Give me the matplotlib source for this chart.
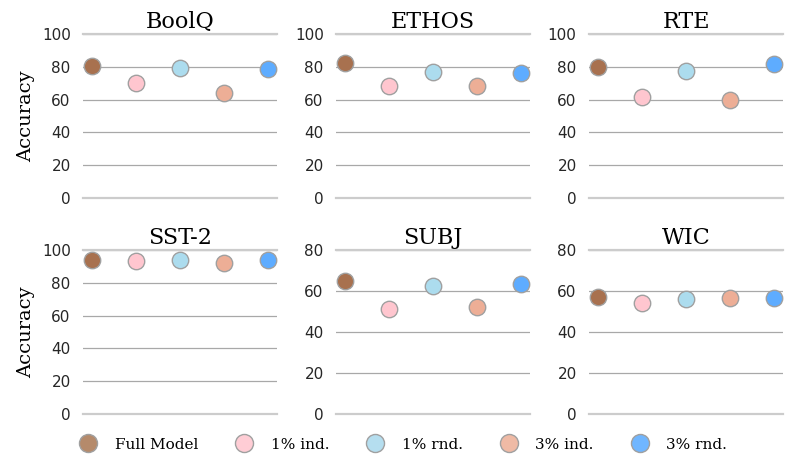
import matplotlib
matplotlib.use("Agg")
import matplotlib.pyplot as plt
from matplotlib.lines import Line2D

tasks = ["BoolQ", "ETHOS", "RTE", "SST-2", "SUBJ", "WIC"]
methods = ["Full Model", "1% ind.", "1% rnd.", "3% ind.", "3% rnd."]
colors = ["#a8714f", "#ffc6cf", "#acdcee", "#edae96", "#5eacff"]
legend_colors = ["#b58a6b", "#ffcdd5", "#b5deef", "#efbaa5", "#70b6ff"]
values = {
    "BoolQ": [80.6, 70.1, 79.4, 64.0, 78.8],
    "ETHOS": [82.4, 68.3, 76.7, 68.4, 76.3],
    "RTE":   [79.9, 61.7, 77.5, 59.9, 81.6],
    "SST-2": [94.0, 93.4, 93.9, 92.2, 94.0],
    "SUBJ":  [64.8, 51.2, 62.4, 52.2, 63.4],
    "WIC":   [57.1, 54.1, 56.0, 56.6, 56.6],
}
ylims = {"BoolQ": 100, "ETHOS": 100, "RTE": 100, "SST-2": 100, "SUBJ": 80, "WIC": 80}

fig, axes = plt.subplots(2, 3, figsize=(8, 4.59), dpi=100)
fig.subplots_adjust(left=0.104, right=0.979, top=0.926, bottom=0.098,
                    wspace=0.304, hspace=0.317)

for ax, task in zip(axes.flat, tasks):
    vals = values[task]
    for i, (v, c) in enumerate(zip(vals, colors)):
        ax.scatter(i, v, s=140, color=c, edgecolor="#a0a0a0",
                   linewidth=1.0, zorder=3)
    ax.set_xlim(-0.2, 4.2)
    top = ylims[task]
    ax.set_ylim(0, top)
    ax.set_yticks(range(0, top + 1, 20))
    ax.set_xticks([])
    ax.grid(axis="y", color="#a8a8a8", linewidth=0.9, zorder=0)
    ax.set_axisbelow(True)
    for s in ["left", "right"]:
        ax.spines[s].set_visible(False)
    for s in ["top", "bottom"]:
        ax.spines[s].set_color("#cccccc")
        ax.spines[s].set_linewidth(1.6)
    ax.tick_params(axis="y", length=0, labelsize=11, labelcolor="#262626", pad=9)
    ax.set_title(task, family="DejaVu Serif", fontsize=16, pad=4)

for ax in axes[:, 0]:
    ax.set_ylabel("Accuracy", family="DejaVu Serif", fontsize=14, labelpad=5)

handles = [Line2D([], [], marker="o", linestyle="", markersize=13,
                  markerfacecolor=c, markeredgecolor="#a0a0a0")
           for c in legend_colors]
fig.legend(handles, methods, loc="lower center", bbox_to_anchor=(0.50, -0.014),
           ncol=5, frameon=False, prop={"family": "DejaVu Serif", "size": 11},
           columnspacing=2.0, handletextpad=0.75)

fig.savefig("out.png", dpi=100)
